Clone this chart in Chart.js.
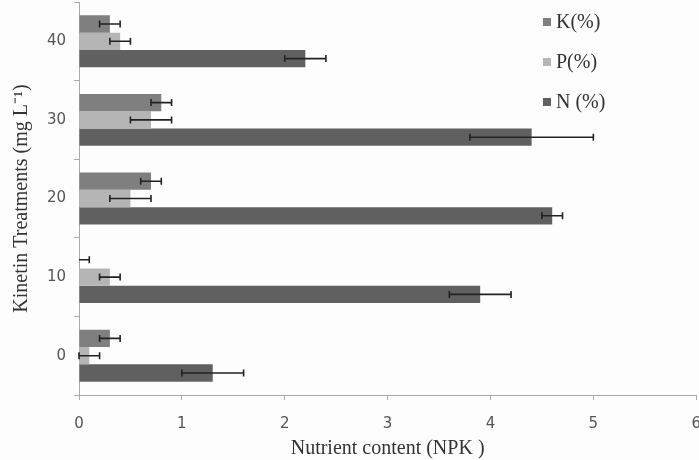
<!DOCTYPE html>
<html>
<head>
<meta charset="utf-8">
<script src="https://cdn.jsdelivr.net/npm/chart.js@4.4.0/dist/chart.umd.min.js"></script>
<style>
  html, body { margin: 0; padding: 0; background: #fdfdfd; }
  #wrap { width: 699px; height: 460px; overflow: hidden; position: relative; }
  #box { position: absolute; left: 0; top: -15px; width: 716px; height: 475px; }
</style>
</head>
<body>
<div id="wrap"><div id="box"><canvas id="npkChart"></canvas></div></div>
<script>
// kinetin treatments, top to bottom as drawn
var treatments = ['40', '30', '20', '10', '0'];

var kValues = [0.3, 0.8, 0.7, 0.0, 0.3];
var kErrors = [0.1, 0.1, 0.1, 0.1, 0.1];

var pValues = [0.4, 0.7, 0.5, 0.3, 0.1];
var pErrors = [0.1, 0.2, 0.2, 0.1, 0.1];

var nValues = [2.2, 4.4, 4.6, 3.9, 1.3];
var nErrors = [0.2, 0.6, 0.1, 0.3, 0.3];

var xTicks = [0, 1, 2, 3, 4, 5, 6];

var errorLists = [kErrors, pErrors, nErrors];

// error bars drawn from the scales
var errorBars = {
    id: 'errorBars',
    afterDatasetsDraw: function(chart) {
        var ctx = chart.ctx;
        var xs = chart.scales.x;
        ctx.save();
        ctx.strokeStyle = '#222';
        ctx.lineWidth = 1.6;
        chart.data.datasets.forEach(function(ds, i) {
            var meta = chart.getDatasetMeta(i);
            meta.data.forEach(function(bar, j) {
                var v = ds.data[j];
                var e = errorLists[i][j];
                var lo = v - e, hi = v + e;
                var x1 = xs.getPixelForValue(Math.max(lo, 0));
                var x2 = xs.getPixelForValue(hi);
                var y = bar.y;
                ctx.beginPath();
                ctx.moveTo(x1, y);
                ctx.lineTo(x2, y);
                ctx.moveTo(x2, y - 3.5);
                ctx.lineTo(x2, y + 3.5);
                if (lo >= 0) {
                    ctx.moveTo(x1, y - 3.5);
                    ctx.lineTo(x1, y + 3.5);
                }
                ctx.stroke();
            });
        });
        ctx.restore();
    }
};

// legend inside the plot, upper right (canvas is shifted up 15px)
var sideLegend = {
    id: 'sideLegend',
    afterDraw: function(chart) {
        var ctx = chart.ctx;
        ctx.save();
        ctx.font = '20px "Liberation Serif", serif';
        ctx.textBaseline = 'middle';
        var rows = [37, 77, 117];
        chart.data.datasets.forEach(function(ds, i) {
            var y = rows[i];
            ctx.fillStyle = ds.backgroundColor;
            ctx.fillRect(543, y - 4, 8, 8);
            ctx.fillStyle = '#333';
            ctx.fillText(ds.label, 556, y + 1);
        });
        ctx.restore();
    }
};

var ctx = document.getElementById('npkChart').getContext('2d');
var npkChart = new Chart(ctx, {
    type: 'bar',
    data: {
        labels: treatments,
        datasets: [
            { label: 'K(%)', data: kValues, backgroundColor: '#7f7f7f' },
            { label: 'P(%)', data: pValues, backgroundColor: '#b5b5b5' },
            { label: 'N (%)', data: nValues, backgroundColor: '#606060' }
        ]
    },
    options: {
        indexAxis: 'y',
        responsive: true,
        maintainAspectRatio: false,
        animation: false,
        layout: { padding: 0 },
        datasets: {
            bar: { categoryPercentage: 0.66, barPercentage: 1.0 }
        },
        plugins: {
            legend: { display: false },
            tooltip: { enabled: false }
        },
        scales: {
            x: {
                min: 0,
                max: 6,
                afterBuildTicks: function(scale) {
                    scale.ticks = xTicks.map(function(v) { return { value: v }; });
                },
                grid: { drawOnChartArea: false, color: '#aaa', tickLength: 5 },
                border: { color: '#aaa' },
                ticks: {
                    color: '#555',
                    padding: 15,
                    font: { family: '"DejaVu Sans", Verdana, sans-serif', size: 15 }
                },
                title: {
                    display: true,
                    text: 'Nutrient content (NPK )',
                    color: '#333',
                    padding: { top: 2, bottom: -1 },
                    font: { family: '"Liberation Serif", serif', size: 20 }
                },
                afterFit: function(scale) { scale.height = 65; }
            },
            y: {
                grid: { drawOnChartArea: false, color: '#aaa', tickLength: 5, offset: true },
                border: { color: '#aaa' },
                ticks: {
                    color: '#555',
                    padding: 8,
                    font: { family: '"DejaVu Sans", Verdana, sans-serif', size: 15 }
                },
                title: {
                    display: true,
                    text: 'Kinetin Treatments (mg L\u207B\u00B9)',
                    color: '#333',
                    padding: { top: 10 },
                    font: { family: '"Liberation Serif", serif', size: 20 }
                },
                afterFit: function(scale) { scale.width = 79; }
            }
        }
    },
    plugins: [errorBars, sideLegend]
});
</script>
</body>
</html>
